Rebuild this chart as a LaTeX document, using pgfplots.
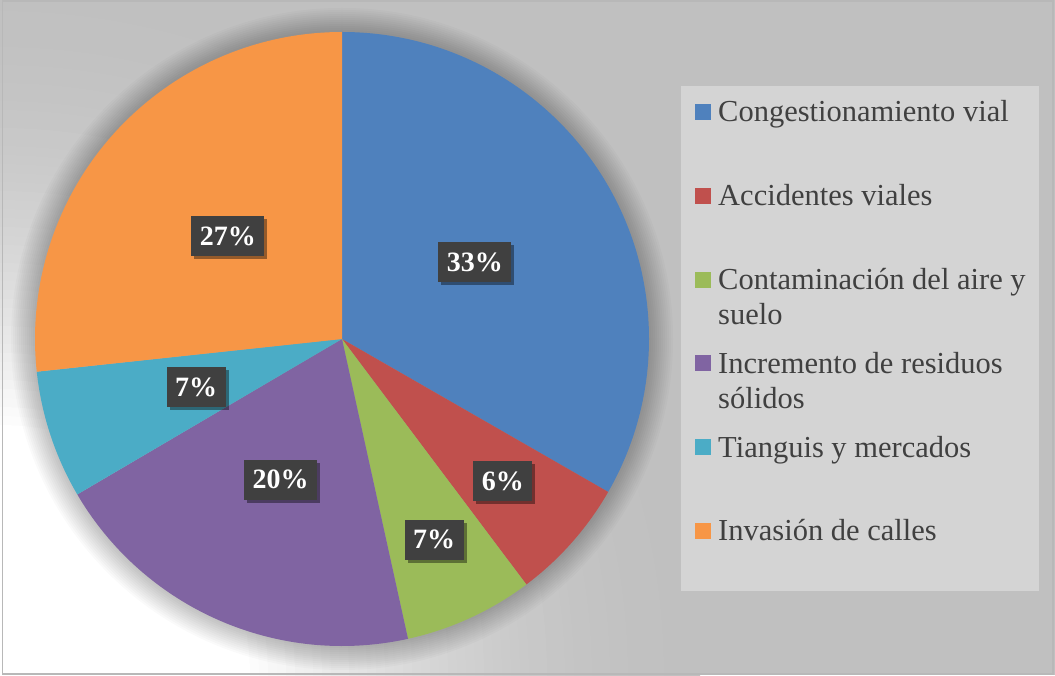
\documentclass[border=0pt]{standalone}
\usepackage{fontspec}
\setmainfont{Liberation Serif}
\usepackage{pgfplots}
\pgfplotsset{compat=1.18}
\usepackage{pgfplotstable}
\usetikzlibrary{shadows}

\definecolor{bgg}{HTML}{C0C0C0}
\definecolor{legbg}{HTML}{D4D4D4}
\definecolor{frame}{HTML}{B8B8B8}
\definecolor{lblgray}{HTML}{404040}
\definecolor{legtext}{HTML}{404040}
\definecolor{cblue}{HTML}{4F81BD}
\definecolor{cred}{HTML}{C0504D}
\definecolor{cgreen}{HTML}{9BBB59}
\definecolor{cpurple}{HTML}{8064A2}
\definecolor{ccyan}{HTML}{4BACC6}
\definecolor{corange}{HTML}{F79646}

% share in percent, slice colour, label radius (fraction of r), legend text
\pgfplotstableread[col sep=comma]{
value,color,lr,first,second
33.3,cblue,0.5,Congestionamiento vial,{}
6.45,cred,0.7,Accidentes viales,{}
6.8,cgreen,0.72,Contaminación del aire y,suelo
20.0,cpurple,0.5,Incremento de residuos,sólidos
6.75,ccyan,0.5,Tianguis y mercados,{}
26.7,corange,0.5,Invasión de calles,{}
}\piedata

\begin{document}
\begin{tikzpicture}
\tikzset{
  lbl/.style={fill=lblgray, text=white, font=\bfseries\fontsize{28}{30}\selectfont,
    inner xsep=8.5pt, inner ysep=0pt, minimum height=40pt,
    drop shadow={shadow xshift=3pt, shadow yshift=-3pt, fill=black, opacity=0.4}},
  leg/.style={anchor=base west, inner sep=0pt, text=legtext,
    font=\fontsize{30.5}{35}\selectfont},
}
\begin{axis}[x=1pt, y=1pt, xmin=0, xmax=1055, ymin=0, ymax=675,
  hide axis, clip=false]
% background: light corner at bottom left fading to grey
\fill[bgg] (axis cs:0,0) rectangle (axis cs:1055,675);
\begin{scope}
\clip (axis cs:0,0) rectangle (axis cs:1055,675);
\pgfplotsinvokeforeach{0,...,50}{\fill[white!\the\numexpr #1*#1/25\relax!bgg] (axis cs:0,0) circle[radius=700pt-#1*9pt];}
\end{scope}
\draw[frame, line width=1.2pt] (axis cs:2.5,1) rectangle (axis cs:1053,674);
% legend panel
\fill[legbg] (axis cs:681,84) rectangle (axis cs:1039,589);
% soft shadow round the pie
\pgfplotsinvokeforeach{1,...,12}{\fill[black, opacity=0.018] (axis cs:342,336) circle[radius=307pt+#1*2pt];}
% slices and legend
\def\cum{90}
\pgfplotsforeachungrouped \i in {0,...,5}{%
  \pgfplotstablegetelem{\i}{value}\of\piedata \let\v\pgfplotsretval
  \pgfplotstablegetelem{\i}{color}\of\piedata \let\c\pgfplotsretval
  \pgfplotstablegetelem{\i}{first}\of\piedata \let\na\pgfplotsretval
  \pgfplotstablegetelem{\i}{second}\of\piedata \let\nb\pgfplotsretval
  \pgfmathsetmacro\endang{\cum-3.6*\v}
  \pgfmathsetmacro\base{553-83.8*\i}
  \pgfmathsetmacro\mlo{\base+2}
  \pgfmathsetmacro\mhi{\base+18}
  \pgfmathsetmacro\basetwo{\base-35}
  \edef\temp{%
    \noexpand\fill[\c] (axis cs:342,336) -- ++(\cum:307pt)
      arc[start angle=\cum, end angle=\endang, radius=307pt] -- cycle;
    \noexpand\fill[\c] (axis cs:695,\mlo) rectangle (axis cs:711,\mhi);
    \noexpand\node[leg] at (axis cs:718,\base) {\na};
    \noexpand\node[leg] at (axis cs:718,\basetwo) {\nb};
  }\temp
  \let\cum\endang
}
% data labels
\def\cum{90}
\pgfplotsforeachungrouped \i in {0,...,5}{%
  \pgfplotstablegetelem{\i}{value}\of\piedata \let\v\pgfplotsretval
  \pgfplotstablegetelem{\i}{lr}\of\piedata \let\lr\pgfplotsretval
  \pgfmathsetmacro\midang{\cum-1.8*\v}
  \pgfmathsetmacro\endang{\cum-3.6*\v}
  \pgfmathsetmacro\lrad{307*\lr}
  \pgfmathtruncatemacro\pct{round(\v)}
  \edef\temp{%
    \noexpand\node[lbl] at ([shift={(\midang:\lrad pt)}]axis cs:342,336) {\pct\noexpand\%};
  }\temp
  \let\cum\endang
}
\end{axis}
\end{tikzpicture}
\end{document}
